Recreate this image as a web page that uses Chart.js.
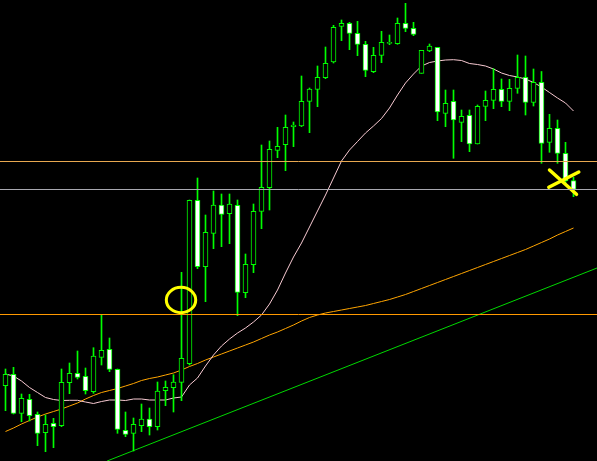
<!DOCTYPE html>
<html>
<head>
<meta charset="utf-8">
<script src="https://cdn.jsdelivr.net/npm/chart.js@4/dist/chart.umd.min.js"></script>
<style>
  html, body { margin: 0; padding: 0; background: #000; }
  #wrap { width: 597px; height: 461px; }
</style>
</head>
<body>
<div id="wrap"><canvas id="chart" width="597" height="461"></canvas></div>
<script>
// Price levels (screen rows, 0 = top, so axis is reversed)
const opens = [385.7, 374.3, 413.3, 399.3, 414.3, 432.7, 423.3, 425.7, 382.7, 373.3, 376.3, 391.7,
  357.3, 349.3, 369.3, 430.3, 433.3, 425.7, 419, 426.7, 390.7, 387.7, 382.3, 363.7,
  200.3, 266.7, 233.3, 205, 213.7, 205.3, 292.7, 264.7, 211.5, 187.7, 150.3, 144.7,
  126.7, 126, 101.3, 89.3, 77.7, 62, 26.3, 23.3, 33.3, 44.3, 71.7, 55.3,
  43.3, 43.7, 23.3, 28.3, 73.3, 51, 47.3, 113.3, 101.3, 122.3, 115.3, 144,
  106.3, 100.3, 89.3, 101.3, 88.3, 77.3, 102.5, 82.3, 142.3, 128.3, 153.3, 180.7];
const highs = [369, 367.3, 394, 394.3, 412, 415, 418.3, 369, 363, 351, 368, 347.7,
  314.5, 338, 369, 412, 418, 404, 408, 382, 381, 374.7, 272.3, 200,
  178, 215, 191, 194, 194, 200, 254, 204, 145, 141, 127.3, 115,
  122, 76, 88, 66, 47, 25.3, 20, 22.3, 21.3, 41.3, 47.3, 31.3,
  35, 18, 3.3, 22.3, 50.3, 44, 47.3, 90, 90, 110, 110, 105,
  91, 68.7, 79, 79.3, 55, 56, 69, 71.5, 114.3, 120, 142.3, 177.3];
const lows = [410.7, 414, 421.7, 421, 445.7, 451.7, 447.7, 426.7, 393.7, 379, 394, 393.3,
  365, 371.7, 433.3, 436.7, 451, 431.7, 435, 430, 405.7, 412, 400.7, 365,
  268.7, 301.7, 248.7, 246.7, 243.7, 315.7, 297.7, 272.7, 228.7, 210, 157.7, 170.7,
  146.7, 126.7, 132.7, 106.7, 78.7, 63, 40.7, 49.7, 55.7, 76.7, 72.7, 62.7,
  44.7, 44.3, 31.7, 35.7, 73.3, 51.7, 120.7, 126.7, 158.3, 141.7, 151.7, 144,
  120.7, 108.7, 106.7, 110.7, 93.3, 115, 106, 163.3, 152.3, 163.3, 183, 196.7];
const closes = [374.3, 413.3, 398.3, 415.7, 433.3, 424.3, 426.7, 382.3, 373.3, 377.3, 390.7, 356,
  350.3, 369.3, 429.3, 434.3, 424.3, 419, 426.7, 391, 387.3, 382, 358.3, 200.3,
  266.7, 232.3, 205, 214.3, 204, 292.3, 264.3, 211.3, 187.3, 149.3, 146.3, 127.3,
  125, 101.3, 89, 77.3, 63.3, 27.3, 23.3, 33.3, 44.3, 70.3, 55.3, 42.3,
  42.3, 23.3, 28.3, 34.3, 50.3, 46, 112, 103.3, 120, 116.3, 144, 106.3,
  100.3, 89.3, 101.3, 88.3, 77.3, 102.3, 82.3, 143.3, 128.3, 153.3, 181, 189.3];

// moving averages at each candle
const maFast = [374, 376, 381, 387.5, 392.5, 397.5, 399.5, 400.5, 400.3, 400.3, 402, 403.5,
  401.5, 400, 400, 400.5, 399, 399, 400, 400, 400, 398, 397, 385,
  378, 366, 355, 346, 339, 333, 328, 322, 315, 304, 290, 273,
  257, 243, 227, 211, 195, 178, 161, 150, 141.5, 133, 126, 118.5,
  108, 95, 83, 74, 66, 62.5, 61, 60, 59.7, 60.5, 63.5, 64.5,
  66, 69, 73, 75.5, 77, 79, 82.5, 87, 92.5, 98, 103, 111];
const maSlow = [431.5, 428, 424, 420.5, 417, 414, 411.5, 409, 406, 403, 399, 395.5,
  392.5, 390.5, 388.5, 386, 383.5, 380.5, 378.5, 377, 375, 373, 370, 366.5,
  363.5, 360, 357, 354, 351, 348, 345, 342, 338.5, 335, 332, 328.5,
  325, 321, 317.5, 315, 313, 311.5, 310, 308.5, 307, 305.5, 303.5, 301.5,
  299.5, 297, 294.5, 291.5, 288.5, 285.5, 282.5, 279.5, 276.5, 273.5, 270.5, 267.5,
  264.5, 261.5, 258.5, 255.5, 252.5, 249.5, 246, 242.5, 239, 235, 231.5, 228];

// horizontal levels and drawn objects
const levelLow = 314.5;
const levelUpper = 161.5;
const levelGray = 189.5;
const trendLine = [[12.7, 461], [73.94, 268]];
const crossA = [[68.0, 170], [71.375, 194.3]];
const crossB = [[67.91, 187.3], [71.66, 172]];
const circleAt = [21.94, 300];

const xMin = -0.6875;
const xMax = 73.9375;
const GREEN = "#00FF00";

const idx = opens.map((_, i) => i);
const pts = (arr) => arr.map((p) => ({ x: p[0], y: p[1] }));
const level = (v) => [{ x: xMin, y: v }, { x: xMax, y: v }];
const lineDs = (data, color, width, order) => ({
  type: "line",
  data: data,
  borderColor: color,
  borderWidth: width,
  pointRadius: 0,
  tension: 0,
  order: order,
});

// yellow ellipse drawn at a data position
const ellipsePlugin = {
  id: "ellipse",
  afterDatasetsDraw(chart) {
    const { ctx, scales } = chart;
    const cx = scales.x.getPixelForValue(circleAt[0]);
    const cy = scales.y.getPixelForValue(circleAt[1]);
    ctx.save();
    ctx.strokeStyle = "#FFFF00";
    ctx.lineWidth = 3;
    ctx.beginPath();
    ctx.ellipse(cx, cy, 14.7, 12.7, 0, 0, Math.PI * 2);
    ctx.stroke();
    ctx.restore();
  },
};

new Chart(document.getElementById("chart").getContext("2d"), {
  type: "bar",
  data: {
    datasets: [
      {
        label: "bodies",
        data: idx.map((i) => ({ x: i, y: [opens[i], closes[i]] })),
        backgroundColor: idx.map((i) => (closes[i] > opens[i] ? "#FFFFFF" : "#000000")),
        borderColor: GREEN,
        borderWidth: 1,
        borderSkipped: false,
        barThickness: 5,
        grouped: false,
        order: 1,
      },
      {
        label: "wicks",
        data: idx.map((i) => ({ x: i, y: [lows[i], highs[i]] })),
        backgroundColor: GREEN,
        borderWidth: 0,
        barThickness: 1,
        grouped: false,
        order: 2,
      },
      lineDs(idx.map((i) => ({ x: i, y: maFast[i] })), "#F8CAD2", 1, 3),
      lineDs(idx.map((i) => ({ x: i, y: maSlow[i] })), "#FFA500", 1, 3),
      lineDs(pts(trendLine), "#00D800", 1, 3),
      lineDs(level(levelLow), "#FF9900", 1, 0),
      lineDs(level(levelUpper), "#E8A850", 1, 0),
      lineDs(level(levelGray), "#A8A8B0", 1, 0),
      Object.assign(lineDs(pts(crossA), "#FFFF00", 3.5, 0), { borderCapStyle: "round" }),
      Object.assign(lineDs(pts(crossB), "#FFFF00", 3.5, 0), { borderCapStyle: "round" }),
    ],
  },
  options: {
    responsive: false,
    animation: false,
    layout: { padding: 0 },
    plugins: { legend: { display: false }, tooltip: { enabled: false } },
    scales: {
      x: { type: "linear", display: false, min: xMin, max: xMax, offset: false },
      y: { type: "linear", display: false, min: 0, max: 461, reverse: true },
    },
  },
  plugins: [ellipsePlugin],
});
</script>
</body>
</html>
